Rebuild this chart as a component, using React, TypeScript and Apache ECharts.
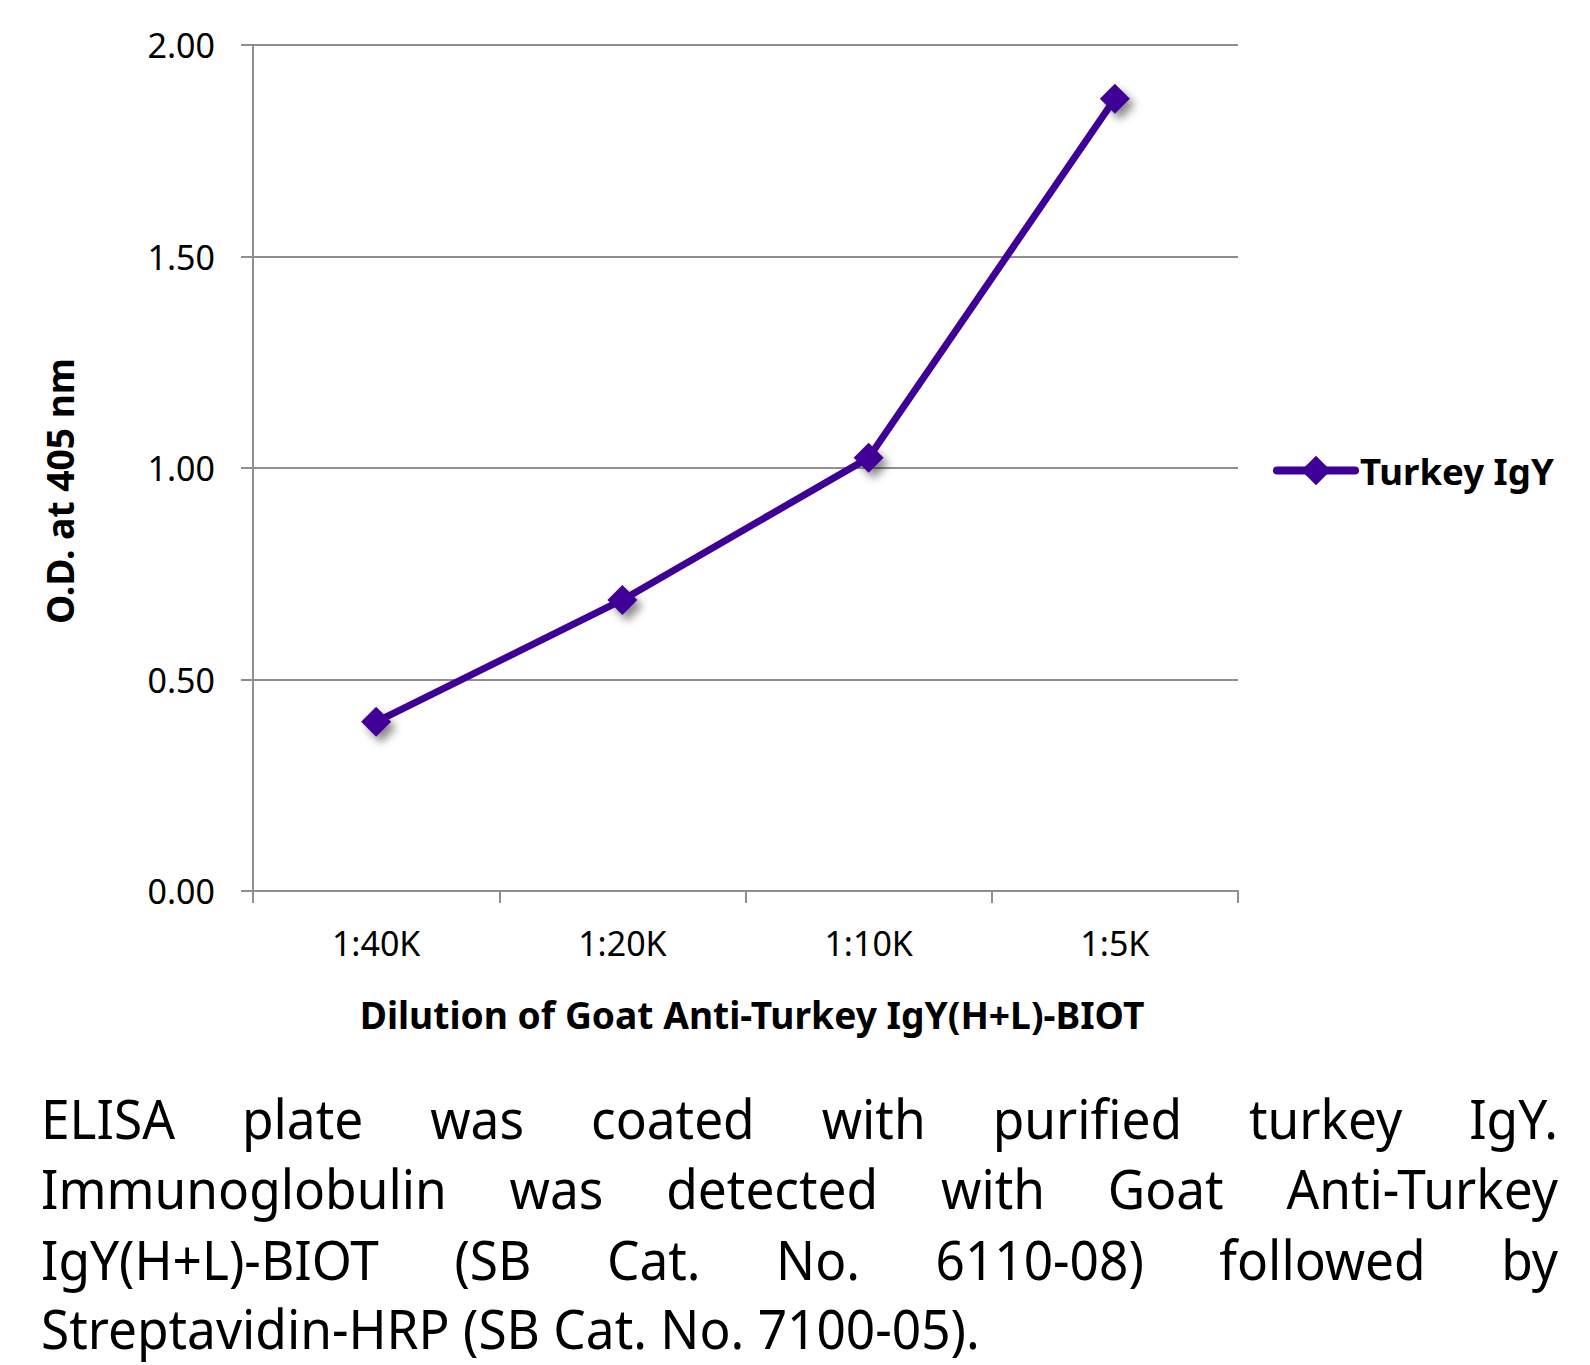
import React, { useEffect, useRef } from "react";
import * as echarts from "echarts";

const categories = ["1:40K", "1:20K", "1:10K", "1:5K"];
const turkeyIgY = [0.4, 0.688, 1.024, 1.873];
const seriesName = "Turkey IgY";
const yMin = 0;
const yMax = 2;
const yInterval = 0.5;
const xTitle = "Dilution of Goat Anti-Turkey IgY(H+L)-BIOT";
const yTitle = "O.D. at 405 nm";
const captionLines = [
  "ELISA plate was coated with purified turkey IgY.",
  "Immunoglobulin was detected with Goat Anti-Turkey",
  "IgY(H+L)-BIOT (SB Cat. No. 6110-08) followed by",
  "Streptavidin-HRP (SB Cat. No. 7100-05).",
];

const W = 1590;
const H = 1365;
const FAMILY = "'Noto Sans', sans-serif";
const PURPLE = "#3f0097";
const GREY = "#8f8f8f";

function measure(text: string, size: number, weight: string) {
  const c = document.createElement("canvas").getContext("2d")!;
  c.font = `${weight} ${size}px 'Noto Sans'`;
  return c.measureText(text).width;
}
function fitSize(text: string, weight: string, target: number) {
  return Math.round((target / measure(text, 100, weight)) * 100 * 10) / 10;
}

export default function App() {
  const ref = useRef<HTMLDivElement>(null);
  useEffect(() => {
    if (!ref.current) return;
    const chart = echarts.init(ref.current, null, { renderer: "svg" });

    const xTitleSize = fitSize(xTitle, "bold", 784);
    const yTitleSize = fitSize(yTitle, "bold", 266);
    const legendSize = fitSize(seriesName, "bold", 194);

    // caption: justified lines
    const capSize = 54;
    const sx = 939 / measure(captionLines[3], capSize, "normal");
    const left = 41;
    const right = 1558;
    const baselines = [1139, 1209, 1280, 1349];
    const graphics: any[] = [];
    captionLines.forEach((line, i) => {
      const y = baselines[i] - 0.388 * capSize;
      const words = i === captionLines.length - 1 ? [line] : line.split(" ");
      const widths = words.map((w) => measure(w, capSize, "normal") * sx);
      const total = widths.reduce((a, b) => a + b, 0);
      const gap = words.length > 1 ? (right - left - total) / (words.length - 1) : 0;
      let x = left;
      words.forEach((w, j) => {
        graphics.push({
          type: "text",
          x,
          y,
          scaleX: sx,
          style: {
            text: w,
            fontSize: capSize,
            fontFamily: FAMILY,
            fill: "#000",
            align: "left",
            verticalAlign: "middle",
          },
        });
        x += widths[j] + gap;
      });
    });

    chart.setOption({
      animation: false,
      backgroundColor: "#fff",
      grid: { left: 253, right: W - 1238, top: 45, bottom: H - 891, containLabel: false },
      legend: {
        data: [seriesName],
        orient: "vertical",
        left: 1273,
        top: 452,
        padding: 0,
        itemWidth: 78,
        itemHeight: 37,
        lineStyle: { width: 8, cap: "round", color: PURPLE },
        itemStyle: { shadowBlur: 0, shadowOffsetX: 0, shadowOffsetY: 0, shadowColor: "transparent" },
        textStyle: { fontSize: legendSize, fontWeight: "bold", fontFamily: FAMILY, color: "#000" },
      },
      xAxis: {
        type: "category",
        data: categories,
        boundaryGap: true,
        name: xTitle,
        nameLocation: "middle",
        nameGap: 105,
        nameTextStyle: {
          fontSize: xTitleSize,
          fontWeight: "bold",
          fontFamily: FAMILY,
          color: "#000",
          padding: [0, 0, 0, 13],
        },
        axisLine: { lineStyle: { color: GREY, width: 2 } },
        axisTick: { show: true, length: 12, alignWithLabel: false, lineStyle: { color: GREY, width: 2 } },
        axisLabel: { fontSize: 34, fontFamily: FAMILY, color: "#000", margin: 35 },
      },
      yAxis: {
        type: "value",
        min: yMin,
        max: yMax,
        interval: yInterval,
        name: yTitle,
        nameLocation: "middle",
        nameGap: 175,
        nameRotate: 90,
        nameTextStyle: {
          fontSize: yTitleSize,
          fontWeight: "bold",
          fontFamily: FAMILY,
          color: "#000",
          padding: [0, 46, 0, 0],
        },
        axisLine: { show: true, lineStyle: { color: GREY, width: 2 } },
        axisTick: { show: true, length: 12, lineStyle: { color: GREY, width: 2 } },
        axisLabel: {
          fontSize: 34,
          fontFamily: FAMILY,
          color: "#000",
          margin: 38,
          formatter: (v: number) => v.toFixed(2),
        },
        splitLine: { show: true, lineStyle: { color: GREY, width: 2 } },
      },
      series: [
        {
          name: seriesName,
          type: "line",
          data: turkeyIgY,
          symbol: "diamond",
          symbolSize: 30,
          lineStyle: { color: PURPLE, width: 7, cap: "round" },
          itemStyle: {
            color: PURPLE,
            shadowBlur: 9,
            shadowOffsetX: 5,
            shadowOffsetY: 6,
            shadowColor: "rgba(0,0,0,0.45)",
          },
        },
      ],
      graphic: graphics,
    });
    return () => chart.dispose();
  }, []);
  return (
    <div
      ref={ref}
      style={{ position: "absolute", left: 0, top: 0, width: W, height: H, background: "#fff" }}
    />
  );
}
